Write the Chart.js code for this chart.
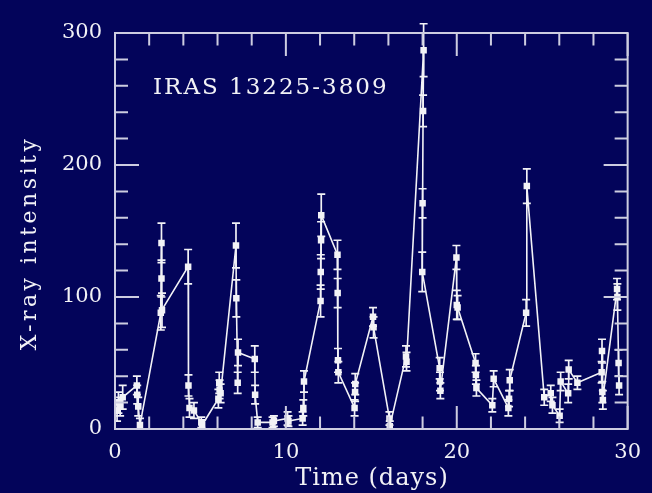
<!DOCTYPE html>
<html><head><meta charset="utf-8">
<script src="https://cdn.jsdelivr.net/npm/chart.js@4.4.0/dist/chart.umd.min.js"></script>
<style>html,body{margin:0;padding:0;background:#03045a;}canvas{display:block}</style>
</head><body>
<canvas id="c" width="652" height="493" style="width:652px;height:493px"></canvas>
<script>
// ---- data ----
const days = [0.12,0.2,0.3,0.45, 1.28,1.3,1.36,1.46, 2.68,2.72,2.72,2.75, 4.28,4.3,4.36,4.62, 5.05,5.1,
  6.05,6.1,6.12,6.18, 7.08,7.1,7.18,7.2, 8.18,8.2,8.35, 9.22,9.3, 10.1,10.15, 10.98,11.02,11.06,
  12.03,12.04,12.06,12.07, 13.02,13.03,13.05,13.07, 14.02,14.05,14.06, 15.1,15.13, 16.06,16.08, 17.03,17.06,
  18.06,18.03,18.0,17.98, 19.0,19.02,19.04, 19.98,20.0,20.05, 21.1,21.12,21.15, 22.08,22.16, 23.02,23.06,23.1,
  24.06,24.1, 25.12,25.5,25.6,26.02,26.08,26.52,26.55,27.06, 28.48,28.5,28.52,28.55, 29.38,29.4,29.47,29.5];
const intensity = [14,20,17,24, 33,26,17,3, 88,141,114,90, 123,33,16,14, 5,3,
  23,35,30,27, 139,99,35,58, 53,26,5, 5,6, 8,6, 8,16,36,
  97,119,143,162, 132,103,52,43, 16,28,34, 85,77, 8,2, 55,51,
  287,241,171,119, 46,36,29, 130,94,92, 50,41,31, 18,38, 16,23,37,
  88,184, 24,27,18,10,36,27,45,35, 43,59,28,22, 106,100,50,33];
const errors = [8,8,7,9, 7,7,7,5, 13,15,14,13, 13,8,7,6, 4,4,
  7,8,7,7, 17,14,8,10, 10,7,4, 4,4, 5,4, 5,6,8,
  12,13,14,16, 11,11,9,8, 6,7,8, 7,8, 5,4, 8,7,
  20,12,11,15, 8,7,6, 9,11,9, 7,7,6, 5,6, 6,6,8,
  10,13, 6,6,6,5,7,7,7,5, 8,9,8,7, 8,10,10,7];
const xTickLabels = [0,10,20,30];
const yTickLabels = [0,100,200,300];
const chartTitle = "IRAS 13225-3809";
const xTitle = "Time (days)";
const yTitle = "X-ray intensity";

const FG = '#f2f2f6';
const FRAME = '#cdcde0';
const FONT = "'DejaVu Serif', serif";

const points = days.map((d, i) => ({x: d, y: intensity[i]}));

const errorBars = {
  id: 'errorBars',
  beforeDatasetsDraw(chart) {
    const {ctx, chartArea: a} = chart;
    const xs = chart.scales.x, ys = chart.scales.y;
    ctx.save();
    ctx.beginPath(); ctx.rect(a.left, a.top - 30, a.right - a.left, a.bottom - a.top + 30); ctx.clip();
    ctx.strokeStyle = FG; ctx.lineWidth = 1.7;
    days.forEach((d, i) => {
      const px = xs.getPixelForValue(d);
      const top = ys.getPixelForValue(intensity[i] + errors[i]);
      const bot = Math.min(ys.getPixelForValue(intensity[i] - errors[i]), a.bottom);
      ctx.beginPath();
      ctx.moveTo(px, top); ctx.lineTo(px, bot);
      ctx.moveTo(px - 4, top); ctx.lineTo(px + 4, top);
      ctx.moveTo(px - 4, bot); ctx.lineTo(px + 4, bot);
      ctx.stroke();
    });
    ctx.restore();
  }
};

const frame = {
  id: 'frame',
  afterDraw(chart) {
    const {ctx, chartArea: a} = chart;
    const xs = chart.scales.x, ys = chart.scales.y;
    ctx.save();
    ctx.strokeStyle = FRAME; ctx.lineWidth = 2;
    ctx.strokeRect(a.left, a.top, a.right - a.left, a.bottom - a.top);
    ctx.beginPath();
    for (let d = 0; d <= 30; d += 2) {
      const px = xs.getPixelForValue(d);
      const len = (d % 10 === 0) ? 23 : 12.5;
      ctx.moveTo(px, a.bottom); ctx.lineTo(px, a.bottom - len);
      ctx.moveTo(px, a.top); ctx.lineTo(px, a.top + len);
    }
    for (let v = 0; v <= 300; v += 20) {
      const py = ys.getPixelForValue(v);
      const len = (v % 100 === 0) ? 24 : 13;
      ctx.moveTo(a.left, py); ctx.lineTo(a.left + len, py);
      ctx.moveTo(a.right, py); ctx.lineTo(a.right - len, py);
    }
    ctx.stroke();
    // titles
    ctx.fillStyle = FG;
    ctx.textBaseline = 'alphabetic';
    ctx.font = "23px " + FONT;
    ctx.letterSpacing = '2px';
    ctx.textAlign = 'left';
    ctx.fillText(chartTitle, 153, 94);
    ctx.font = "24px " + FONT;
    ctx.letterSpacing = '1px';
    ctx.textAlign = 'center';
    ctx.fillText(xTitle, 372, 485);
    ctx.translate(36, 243);
    ctx.rotate(-Math.PI / 2);
    ctx.font = "22px " + FONT;
    ctx.letterSpacing = '3.5px';
    ctx.fillText(yTitle, 0, 0);
    ctx.restore();
  }
};

new Chart(document.getElementById('c'), {
  type: 'scatter',
  data: {
    datasets: [{
      data: points,
      showLine: true,
      borderColor: FG,
      borderWidth: 1.6,
      pointStyle: 'rect',
      pointRadius: 4.6,
      pointBackgroundColor: FG,
      pointBorderColor: FG,
      pointBorderWidth: 0,
      tension: 0
    }]
  },
  options: {
    responsive: false,
    animation: false,
    devicePixelRatio: 1,
    layout: {padding: {top: 33, right: 20, left: 0, bottom: 0}},
    plugins: {legend: {display: false}, tooltip: {enabled: false}},
    scales: {
      x: {
        type: 'linear', min: 0, max: 30,
        afterBuildTicks(s) { s.ticks = xTickLabels.map(v => ({value: v})); },
        ticks: {color: FG, font: {family: FONT, size: 21}, padding: 11, maxRotation: 0, callback: v => String(v)},
        grid: {display: false, drawTicks: false},
        border: {display: false},
        afterFit(s) { s.height = 64; }
      },
      y: {
        min: 0, max: 300,
        afterBuildTicks(s) { s.ticks = yTickLabels.map(v => ({value: v})); },
        ticks: {color: FG, font: {family: FONT, size: 21}, padding: 13, callback: v => String(v)},
        grid: {display: false, drawTicks: false},
        border: {display: false},
        afterFit(s) { s.width = 115; }
      }
    }
  },
  plugins: [errorBars, frame]
});
</script>
</body></html>
